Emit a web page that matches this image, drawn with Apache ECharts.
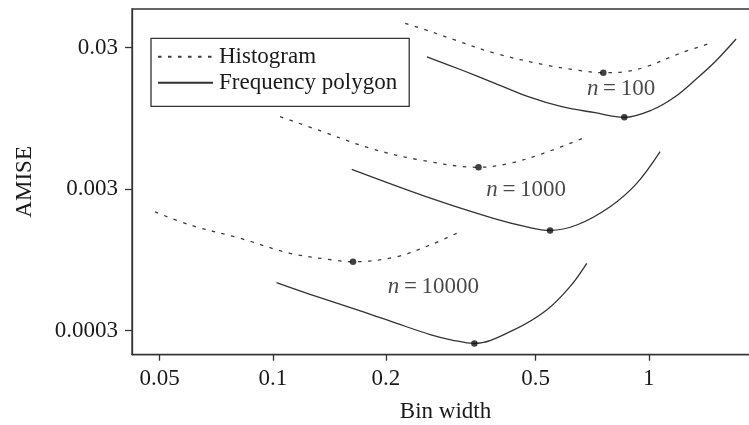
<!DOCTYPE html>
<html>
<head>
<meta charset="utf-8">
<title>AMISE vs bin width</title>
<script src="https://cdn.jsdelivr.net/npm/echarts@6/dist/echarts.min.js"></script>
<style>
  html, body { margin: 0; padding: 0; background: #fff; }
  #chart { width: 749px; height: 425px; }
</style>
</head>
<body>
<div id="chart"></div>
<script>
// Bin widths (h) and AMISE values along each curve
const hist100W = [0.225, 0.266, 0.305, 0.390, 0.530, 0.650, 0.757, 0.870, 0.988, 1.211, 1.471];
const hist100A = [0.0445, 0.0385, 0.0339, 0.0273, 0.0226, 0.0207, 0.0199, 0.0203, 0.0220, 0.0273, 0.0324];

const fp100W = [0.257, 0.318, 0.390, 0.478, 0.587, 0.720, 0.861, 1.019, 1.175, 1.328, 1.501, 1.707];
const fp100A = [0.0258, 0.0208, 0.01675, 0.01347, 0.01145, 0.01038, 0.00963, 0.01085, 0.01347, 0.01768, 0.0238, 0.03445];

const hist1000W = [0.1046, 0.1336, 0.1815, 0.2465, 0.3526, 0.4277, 0.5244, 0.6841];
const hist1000A = [0.00973, 0.00775, 0.00582, 0.00481, 0.00427, 0.00456, 0.00536, 0.00703];

const fp1000W = [0.1622, 0.2675, 0.3862, 0.4737, 0.5464, 0.6435, 0.7891, 0.9292, 1.072];
const fp1000A = [0.00413, 0.00254, 0.00186, 0.00162, 0.00153, 0.00167, 0.00225, 0.00329, 0.00551];

const hist10000W = [0.0486, 0.0603, 0.0819, 0.1112, 0.1450, 0.1635, 0.2137, 0.2621, 0.3148];
const hist10000A = [0.00207, 0.00167, 0.001345, 0.001054, 0.000945, 0.000918, 0.000997, 0.001206, 0.001497];

const fp10000W = [0.1023, 0.1257, 0.1742, 0.2137, 0.2621, 0.2998, 0.3437, 0.4364, 0.5354, 0.6175, 0.6841];
const fp10000A = [0.000655, 0.000541, 0.000407, 0.000337, 0.000281, 0.000257, 0.000243, 0.000302, 0.000419, 0.000612, 0.000895];

// Optimal bin widths marked with dots
const histOptW = [0.757, 0.3526, 0.1635];
const histOptA = [0.0199, 0.00427, 0.000918];
const fpOptW = [0.861, 0.5464, 0.3437];
const fpOptA = [0.00963, 0.00153, 0.000243];

// Sample-size annotations
const sampleSizes = ['100', '1000', '10000'];
const sampleLabelW = [0.844, 0.472, 0.2675];
const sampleLabelA = [0.01527, 0.00295, 0.000612];

// Axis ticks
const xTicks = [0.05, 0.1, 0.2, 0.5, 1];
const yTicks = [0.0003, 0.003, 0.03];

const zip = (w, a) => w.map((v, i) => [v, a[i]]);
const fmt = v => String(parseFloat(Number(v).toPrecision(6)));

const FONT = '"Liberation Serif", "DejaVu Serif", serif';
const INK = '#1a1a1a';
const AXIS = '#333';

const histLine = { color: '#3a3a3a', width: 1.3, type: [3.5, 6.5] };
const fpLine = { color: '#333', width: 1.3, type: 'solid' };

function curve(name, w, a, lineStyle) {
  return {
    name, type: 'line', data: zip(w, a), smooth: 0.35, symbol: 'none',
    lineStyle, itemStyle: { color: lineStyle.color }, silent: true, z: 3
  };
}

const series = [
  curve('Histogram', hist100W, hist100A, histLine),
  curve('Histogram', hist1000W, hist1000A, histLine),
  curve('Histogram', hist10000W, hist10000A, histLine),
  curve('Frequency polygon', fp100W, fp100A, fpLine),
  curve('Frequency polygon', fp1000W, fp1000A, fpLine),
  curve('Frequency polygon', fp10000W, fp10000A, fpLine),
  {
    type: 'scatter', data: zip(histOptW, histOptA).concat(zip(fpOptW, fpOptA)),
    symbol: 'circle', symbolSize: 6.5, itemStyle: { color: '#111' }, silent: true, z: 5
  },
  {
    type: 'scatter', symbolSize: 0, silent: true, z: 6,
    data: sampleSizes.map((n, i) => ({ value: [sampleLabelW[i], sampleLabelA[i]], n })),
    label: {
      show: true, position: 'inside',
      formatter: p => '{i|n}{t|\u2009=\u2009' + p.data.n + '}',
      rich: {
        i: { fontFamily: FONT, fontStyle: 'italic', fontSize: 23, color: INK },
        t: { fontFamily: FONT, fontSize: 23, color: INK }
      }
    }
  }
];

const chart = echarts.init(document.getElementById('chart'), null, { renderer: 'canvas' });
chart.setOption({
  animation: false,
  backgroundColor: '#fff',
  grid: {
    left: 132, top: 9, width: 618, height: 345.7,
    containLabel: false, outerBoundsMode: 'none',
    show: true, borderColor: AXIS, borderWidth: 1.3, backgroundColor: 'transparent'
  },
  legend: {
    left: 151, top: 38.3, orient: 'vertical',
    data: ['Histogram', 'Frequency polygon'],
    itemWidth: 55, itemHeight: 23, itemGap: 3,
    padding: [7, 12, 12, 6],
    borderColor: AXIS, borderWidth: 1.3, backgroundColor: '#fff',
    itemStyle: { opacity: 0, color: 'transparent', borderWidth: 0 },
    textStyle: { fontFamily: FONT, fontSize: 23, color: INK, padding: [0, 0, 0, 1] },
    selectedMode: false
  },
  xAxis: {
    type: 'log', logBase: 10, min: 0.04223, max: 1.859,
    name: 'Bin width', nameLocation: 'middle', nameGap: 46,
    nameTextStyle: { fontFamily: FONT, fontSize: 23, color: INK, padding: [0, 0, 0, 9] },
    axisLine: { show: true, lineStyle: { color: AXIS, width: 1.3 } },
    axisTick: { show: true, customValues: xTicks, length: 6, lineStyle: { color: AXIS, width: 1.3 } },
    axisLabel: { customValues: xTicks, formatter: fmt, margin: 13, fontFamily: FONT, fontSize: 23, color: INK },
    splitLine: { show: false }, minorTick: { show: false }
  },
  yAxis: {
    type: 'log', logBase: 10, min: 0.0002024, max: 0.05613,
    name: 'AMISE', nameLocation: 'middle', nameGap: 96, nameRotate: 90,
    nameTextStyle: { fontFamily: FONT, fontSize: 23, color: INK },
    axisLine: { show: true, lineStyle: { color: AXIS, width: 1.3 } },
    axisTick: { show: true, customValues: yTicks, length: 7, lineStyle: { color: AXIS, width: 1.3 } },
    axisLabel: { customValues: yTicks, formatter: fmt, margin: 14, fontFamily: FONT, fontSize: 23, color: INK },
    splitLine: { show: false }, minorTick: { show: false }
  },
  series
});
</script>
</body>
</html>
